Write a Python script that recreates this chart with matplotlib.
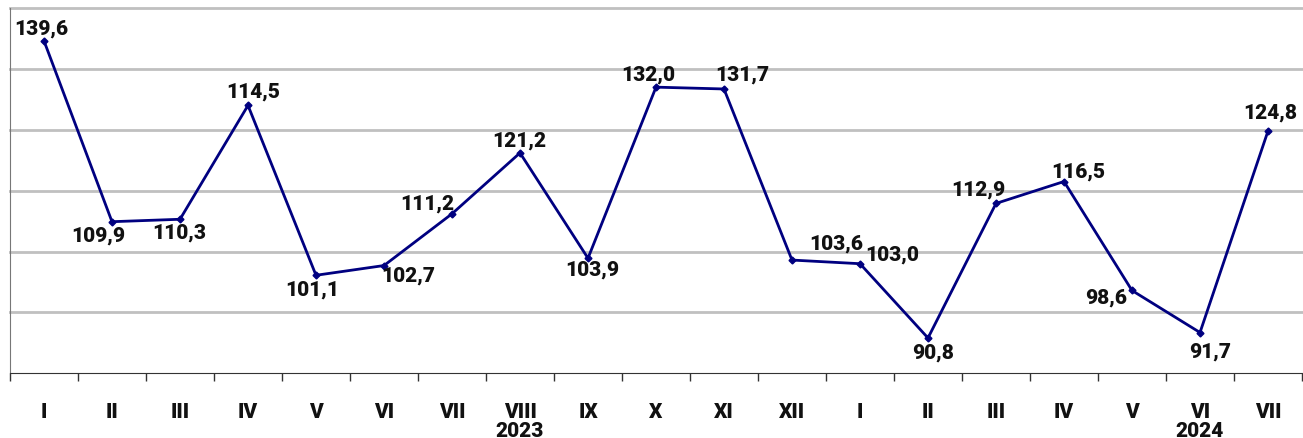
import numpy as np
import matplotlib
matplotlib.use('Agg')
import matplotlib.pyplot as plt

# months Jan 2023 .. Jul 2024
months = ['I', 'II', 'III', 'IV', 'V', 'VI', 'VII', 'VIII', 'IX', 'X', 'XI', 'XII',
          'I', 'II', 'III', 'IV', 'V', 'VI', 'VII']
# plotted heights (IV 2023 is drawn higher than its label in the source)
values = [139.6, 109.9, 110.3, 129.0, 101.1, 102.7, 111.2, 121.2, 103.9, 132.0,
          131.7, 103.6, 103.0, 90.8, 112.9, 116.5, 98.6, 91.7, 124.8]
labels = ['139,6', '109,9', '110,3', '114,5', '101,1', '102,7', '111,2', '121,2',
          '103,9', '132,0', '131,7', '103,6', '103,0', '90,8', '112,9', '116,5',
          '98,6', '91,7', '124,8']
years = {7: '2023', 17: '2024'}
grid_vals = [95, 105, 115, 125, 135, 145]

# label offsets in pixels (dx, dy) relative to the point
offsets = [(-3, 13), (-14, -13), (-1, -13), (5, 14), (-4, -14), (24, -10),
           (-25, 11), (-1, 13), (4, -11), (-8, 13), (18, 15), (44, 17),
           (32, 10), (5, -14), (-18, 14), (14, 10), (-26, -7), (10, -19), (2, 19)]

plt.rcParams['font.family'] = ['Roboto', 'DejaVu Sans']
TXT = dict(fontsize=15, fontweight='heavy', color='#111111')

fig = plt.figure(figsize=(13.03, 4.39), dpi=100)
ax = fig.add_axes([10 / 1303, 64.7 / 439, 1292 / 1303, 365.3 / 439])

x = np.arange(len(values))
for g in grid_vals:
    ax.axhline(g, color='#c0c0c0', lw=2, zorder=1, clip_on=False)

ax.plot(x, values, color='#000080', lw=2, marker='D', ms=3.5, zorder=3)

for xi, v, lab, (dx, dy) in zip(x, values, labels, offsets):
    ax.annotate(lab, (xi, v), xytext=(dx, dy), textcoords='offset pixels',
                ha='center', va='center', zorder=4, **TXT)

ax.set_xlim(-0.5, len(values) - 0.5)
ax.set_ylim(85, 145)
ax.set_yticks([])

ax.set_xticks(x)
ax.set_xticklabels(months, **TXT)
ax.tick_params(axis='x', which='major', length=0, pad=21)
ax.set_xticks(np.arange(len(values) + 1) - 0.5, minor=True)
ax.tick_params(axis='x', which='minor', length=6, width=1, color='#333333')

for xi, yr in years.items():
    ax.annotate(yr, (xi, 0), xycoords=('data', 'axes fraction'), xytext=(0, -57),
                textcoords='offset pixels', ha='center', va='center', **TXT)

ax.spines['top'].set_visible(False)
ax.spines['right'].set_visible(False)
ax.spines['left'].set_color('#777777')
ax.spines['bottom'].set_color('#333333')

fig.savefig('out.png', dpi=100)
